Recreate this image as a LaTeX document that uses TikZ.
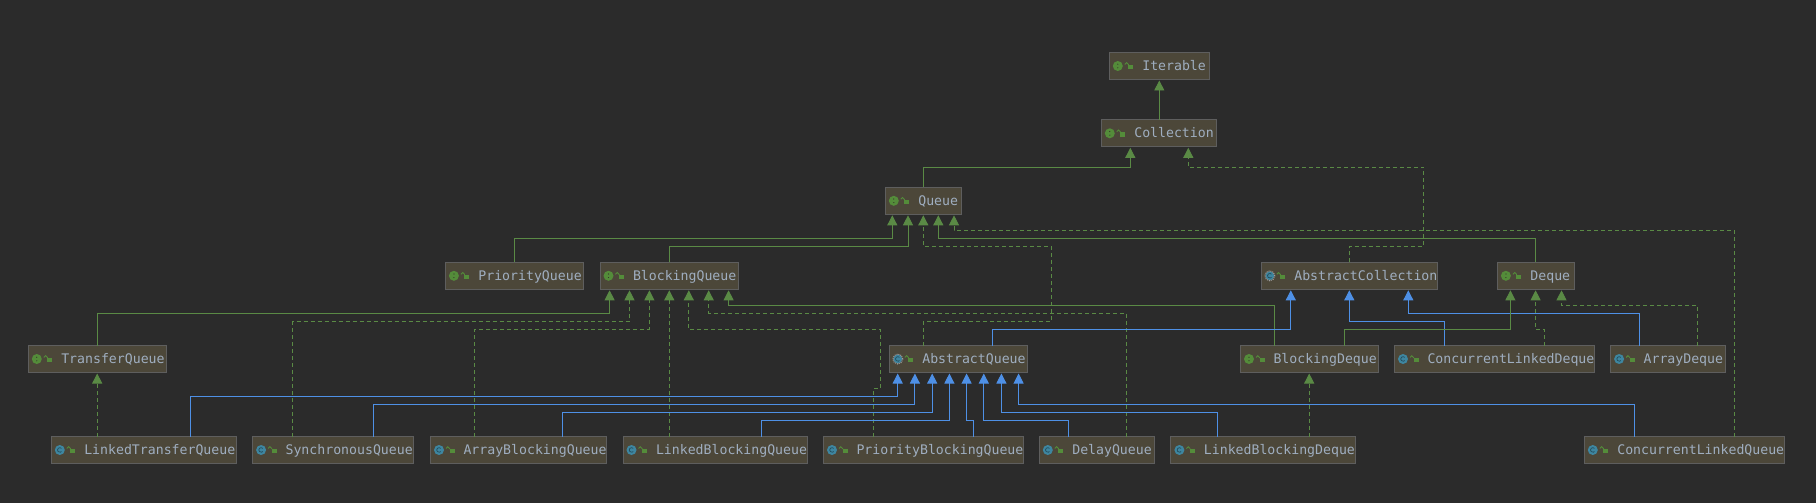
\documentclass[tikz,border=0pt]{standalone}
\usepackage{fontspec}
\setmonofont{DejaVu Sans Mono}
\usetikzlibrary{arrows.meta}
\definecolor{bgc}{HTML}{2B2B2B}
\definecolor{boxfill}{HTML}{4C4739}
\definecolor{boxline}{HTML}{5E5E5E}
\definecolor{txt}{HTML}{9FAEC0}
\definecolor{gline}{HTML}{5A8A45}
\definecolor{bline}{HTML}{4E90E6}
\definecolor{teal}{HTML}{3E86A0}
\definecolor{igreen}{HTML}{548C3A}
\tikzset{
  box/.style={draw=boxline,fill=boxfill,line width=1pt,inner xsep=0pt,inner ysep=0pt,outer sep=0pt,
    minimum height=27pt,anchor=north west,align=left,text=txt,
    font=\ttfamily\fontsize{13.2}{15}\selectfont,text height=11pt,text depth=2pt},
  extl/.style={draw=gline,line width=.9pt,-{Triangle[length=10pt,width=10pt,fill=gline]},shorten >=1pt},
  impl/.style={extl,dash pattern=on 4pt off 3pt},
  subl/.style={draw=bline,line width=.9pt,-{Triangle[length=10pt,width=10pt,fill=bline]},shorten >=1pt},
}
% name, x1, x2, y1, icon, text
\newcommand\cls[6]{%
  \node[box,text width={(#3-#2)*1pt}] (#1) at (#2,#4) {\hspace*{33pt}#6};
  \begin{scope}[shift={(#1.west)}]
    \csname ico#5\endcsname
    \fill[igreen] (19,-1) rectangle (24,3.2);
    \draw[igreen,line width=.9pt] (15.5,-1.5) arc[start angle=180,end angle=0,radius=1.8pt] -- (19.1,-1);
  \end{scope}}
\newcommand\icoI{%
  \fill[igreen] (8.5,0) circle (5pt);
  \fill[boxfill!70!black] (8.5,-1.8) circle (.6pt) (8.5,1.8) circle (.6pt);}
\newcommand\icoC{%
  \fill[teal] (8.5,0) circle (5pt);
  \draw[teal!55!black,line width=.7pt] (10.2,-1.6) arc[start angle=43,end angle=317,radius=2.3pt];}
\newcommand\icoA{%
  \fill[teal] (8.5,0) circle (4.4pt);
  \draw[boxline!60!white,line width=1pt,dash pattern=on 1pt off 1pt] (8.5,0) circle (5pt);
  \draw[teal!55!black,line width=.7pt] (10.2,-1.6) arc[start angle=43,end angle=317,radius=2.3pt];}
% style, child, xchild, ymid, parent, xparent
\newcommand\link[6]{%
  \coordinate (s) at (#3,0 |- #2.north);
  \coordinate (t) at (#6,0 |- #5.south);
  \draw[#1] (s) -- (s |- 0,#4) -- (t |- 0,#4) -- (t);}
% style, child, parent, x
\newcommand\slink[4]{%
  \draw[#1] (#4,0 |- #2.north) -- (#4,0 |- #3.south);}
\begin{document}
\begin{tikzpicture}[x=1pt,y=-1pt]
\useasboundingbox (0,0) rectangle (1816,503);
\fill[bgc] (0,0) rectangle (1816,503);
% nodes
\cls{Iterable}{1109.3}{1209}{52.5}{I}{Iterable}
\cls{Collection}{1101.3}{1216.7}{119.8}{I}{Collection}
\cls{Queue}{885.3}{961.7}{187.3}{I}{Queue}
\cls{PriorityQueue}{445.4}{583.5}{262.3}{I}{PriorityQueue}
\cls{BlockingQueue}{600}{738.1}{262.3}{I}{BlockingQueue}
\cls{AbstractCollection}{1261.3}{1437.7}{262.3}{A}{AbstractCollection}
\cls{Deque}{1497.4}{1574.5}{262.3}{I}{Deque}
\cls{TransferQueue}{28.3}{166.5}{345.5}{I}{TransferQueue}
\cls{AbstractQueue}{889.3}{1027.4}{345.5}{A}{AbstractQueue}
\cls{BlockingDeque}{1240.5}{1378.8}{345.5}{I}{BlockingDeque}
\cls{ConcurrentLinkedDeque}{1394.5}{1594.5}{345.5}{C}{ConcurrentLinkedDeque}
\cls{ArrayDeque}{1610.6}{1725.7}{345.5}{C}{ArrayDeque}
\cls{LinkedTransferQueue}{51.3}{236.5}{436.5}{C}{LinkedTransferQueue}
\cls{SynchronousQueue}{252.6}{413.7}{436.5}{C}{SynchronousQueue}
\cls{ArrayBlockingQueue}{430.5}{606.5}{436.5}{C}{ArrayBlockingQueue}
\cls{LinkedBlockingQueue}{623}{807.8}{436.5}{C}{LinkedBlockingQueue}
\cls{PriorityBlockingQueue}{823.5}{1023.6}{436.5}{C}{PriorityBlockingQueue}
\cls{DelayQueue}{1039.3}{1154.5}{436.5}{C}{DelayQueue}
\cls{LinkedBlockingDeque}{1170.9}{1355.6}{436.5}{C}{LinkedBlockingDeque}
\cls{ConcurrentLinkedQueue}{1584.3}{1784.3}{436.5}{C}{ConcurrentLinkedQueue}
% connectors: interfaces at top
\slink{extl}{Collection}{Iterable}{1159.3}
\link{extl}{Queue}{923.3}{167.3}{Collection}{1130.3}
\draw[impl] (1349.7,0 |- AbstractCollection.north) -- (1349.7,246.3) -- (1423.6,246.3) -- (1423.6,167.3) -- (1188.3,167.3) -- (1188.3,0 |- Collection.south);
% to Queue
\link{extl}{PriorityQueue}{514.3}{238.3}{Queue}{892.3}
\link{extl}{BlockingQueue}{669.3}{246.3}{Queue}{908}
\draw[impl] (923.3,0 |- AbstractQueue.north) -- (923.3,321.3) -- (1051.5,321.3) -- (1051.5,246.3) -- (923.3,246.3) -- (923.3,0 |- Queue.south);
\link{extl}{Deque}{1535.6}{238.3}{Queue}{938.3}
\link{impl}{ConcurrentLinkedQueue}{1734.8}{230.3}{Queue}{954}
% to BlockingQueue
\link{extl}{TransferQueue}{97.2}{313.3}{BlockingQueue}{609.6}
\link{impl}{SynchronousQueue}{292.7}{321.3}{BlockingQueue}{629.5}
\link{impl}{ArrayBlockingQueue}{474.5}{329.3}{BlockingQueue}{649.4}
\slink{impl}{LinkedBlockingQueue}{BlockingQueue}{669.3}
\draw[impl] (873.2,0 |- PriorityBlockingQueue.north) -- (873.2,388.3) -- (880.5,388.3) -- (880.5,329.3) -- (688.8,329.3) -- (688.8,0 |- BlockingQueue.south);
\link{impl}{DelayQueue}{1126.5}{313.3}{BlockingQueue}{708.7}
\link{extl}{BlockingDeque}{1274.3}{305.3}{BlockingQueue}{728.6}
% to TransferQueue, BlockingDeque
\slink{impl}{LinkedTransferQueue}{TransferQueue}{97.2}
\slink{impl}{LinkedBlockingDeque}{BlockingDeque}{1309.2}
% to AbstractQueue
\link{subl}{LinkedTransferQueue}{190.6}{396.3}{AbstractQueue}{897.7}
\link{subl}{SynchronousQueue}{373.5}{404.3}{AbstractQueue}{914.9}
\link{subl}{ArrayBlockingQueue}{562.5}{412.3}{AbstractQueue}{932.2}
\link{subl}{LinkedBlockingQueue}{761.5}{420.3}{AbstractQueue}{949.4}
\link{subl}{PriorityBlockingQueue}{973.5}{420.3}{AbstractQueue}{966.6}
\link{subl}{DelayQueue}{1068.8}{420.3}{AbstractQueue}{983.8}
\link{subl}{LinkedBlockingDeque}{1217.3}{412.3}{AbstractQueue}{1001.4}
\link{subl}{ConcurrentLinkedQueue}{1634.6}{404.3}{AbstractQueue}{1018.6}
% to AbstractCollection
\link{subl}{AbstractQueue}{992.2}{329.3}{AbstractCollection}{1290.8}
\link{subl}{ConcurrentLinkedDeque}{1444.8}{321.3}{AbstractCollection}{1349.3}
\link{subl}{ArrayDeque}{1639.3}{313.3}{AbstractCollection}{1408.3}
% to Deque
\link{extl}{BlockingDeque}{1344.6}{329.3}{Deque}{1510.4}
\link{impl}{ConcurrentLinkedDeque}{1544.6}{329.3}{Deque}{1535.6}
\link{impl}{ArrayDeque}{1697.8}{305.3}{Deque}{1561.5}
\end{tikzpicture}
\end{document}
